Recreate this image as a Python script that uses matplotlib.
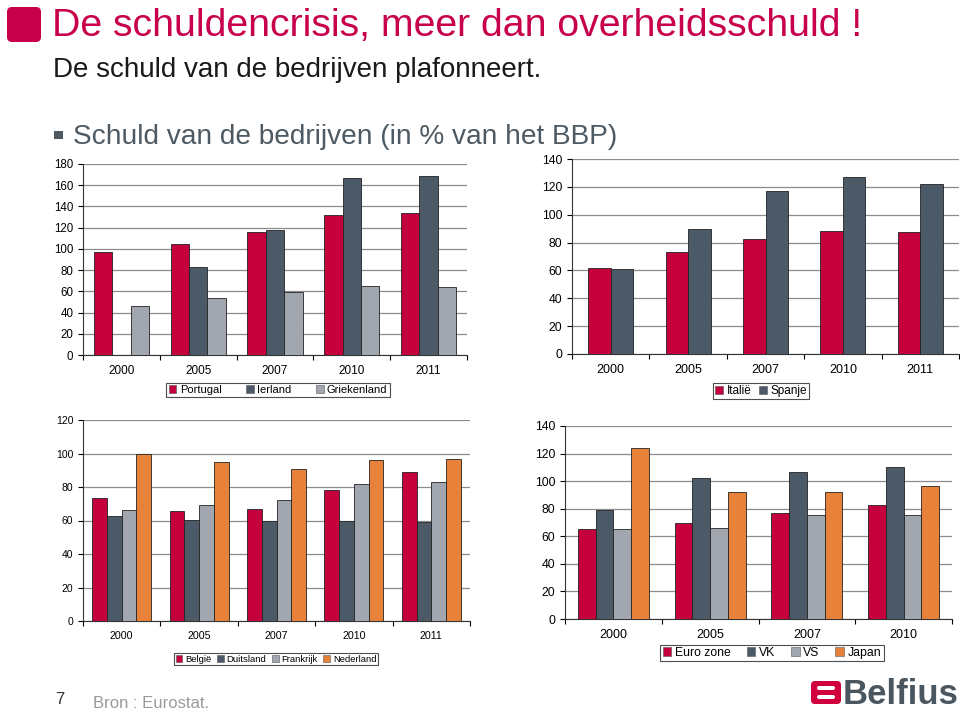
import numpy as np
import matplotlib
matplotlib.use("Agg")
import matplotlib.pyplot as plt
from matplotlib.patches import FancyBboxPatch, Rectangle, Patch

plt.rcParams['font.family'] = ['Liberation Sans', 'DejaVu Sans']

# data (% of GDP)
years5 = ['2000', '2005', '2007', '2010', '2011']
years4 = ['2000', '2005', '2007', '2010']

portugal = [97, 104.5, 116, 132, 134]
ierland = [np.nan, 83, 118, 167, 169]
griekenland = [46, 54, 59.5, 65, 64.5]

italie = [62, 73.5, 82.5, 88, 87.5]
spanje = [61, 89.5, 117, 127, 122]

belgie = [73.5, 65.5, 67, 78, 89]
duitsland = [62.5, 60.5, 60, 59.5, 59]
frankrijk = [66, 69, 72.5, 82, 83]
nederland = [100, 95, 91, 96, 96.5]

eurozone = [65, 70, 77, 83]
vk = [79, 102, 106.5, 110]
vs = [65, 66, 75.5, 75.5]
japan = [124, 92, 92, 96.5]

RED = '#C4003D'
SLATE = '#4B5A66'
GREY = '#A2A6AE'
ORANGE = '#E8823A'

W, H = 960, 712
fig = plt.figure(figsize=(9.6, 7.12), dpi=100)

# overlay in pixel coordinates for header / footer
bg = fig.add_axes([0, 0, 1, 1])
bg.set_xlim(0, W)
bg.set_ylim(H, 0)
bg.axis('off')

bg.add_patch(FancyBboxPatch((7, 7), 34, 35, boxstyle='round,pad=0,rounding_size=5',
                            fc='#C8004B', ec='none'))
bg.text(52, 36, 'De schuldencrisis, meer dan overheidsschuld !', color='#C8004B',
        fontsize=28.3, va='baseline', ha='left')
bg.text(53, 77, 'De schuld van de bedrijven plafonneert.', color='#1A1A1A',
        fontsize=20, va='baseline', ha='left')
bg.add_patch(Rectangle((54, 131), 9, 8, fc='#4D5A63', ec='none'))
bg.text(73, 144, 'Schuld van de bedrijven (in % van het BBP)', color='#4D5A63',
        fontsize=20.2, va='baseline', ha='left')
bg.text(55, 704, '7', color='#333333', fontsize=12, va='baseline')
bg.text(93, 708, 'Bron : Eurostat.', color='#9A9A9A', fontsize=12, va='baseline')

# Belfius logo
bg.add_patch(FancyBboxPatch((811, 681), 30, 23, boxstyle='round,pad=0,rounding_size=4',
                            fc='#D0003F', ec='none'))
for yy in (686, 695):
    bg.add_patch(FancyBboxPatch((817, yy), 18, 4, boxstyle='round,pad=0,rounding_size=2',
                                fc='white', ec='none'))
bg.text(843, 704, 'Belfius', color='#4A5761', fontsize=25, fontweight='bold',
        va='baseline', ha='left')


def px_axes(x0, x1, y0, y1):
    return fig.add_axes([x0 / W, 1 - y1 / H, (x1 - x0) / W, (y1 - y0) / H])


def bar_chart(ax, cats, series, names, colors, width, ymax, step,
              ytick_fs, xtick_fs, leg_xy, leg_fs, colsp):
    n = len(cats)
    x = np.arange(n)
    k = len(series)
    handles = []
    for i, (vals, col) in enumerate(zip(series, colors)):
        off = (i - (k - 1) / 2) * width
        ax.bar(x + off, vals, width, color=col, edgecolor='#222222', linewidth=0.6,
               zorder=3)
        handles.append(Patch(fc=col, ec='#555555', lw=0.4))
    ax.set_xlim(-0.5, n - 0.5)
    ax.set_ylim(0, ymax)
    ax.set_yticks(np.arange(0, ymax + 1, step))
    ax.set_xticks(x)
    ax.set_xticklabels(cats)
    ax.set_xticks(np.arange(n + 1) - 0.5, minor=True)
    ax.tick_params(axis='x', which='major', length=0, pad=7, labelsize=xtick_fs)
    ax.tick_params(axis='x', which='minor', length=3.5, width=0.8, direction='out')
    ax.tick_params(axis='y', length=3.5, width=0.8, direction='out', pad=3.5,
                   labelsize=ytick_fs)
    ax.grid(axis='y', color='#8C8C8C', linewidth=0.9, zorder=0)
    ax.set_axisbelow(True)
    for s in ('top', 'right'):
        ax.spines[s].set_visible(False)
    for s in ('left', 'bottom'):
        ax.spines[s].set_linewidth(0.8)
        ax.spines[s].set_color('#333333')
    leg = fig.legend(handles, names, loc='center',
                     bbox_to_anchor=(leg_xy[0] / W, 1 - leg_xy[1] / H),
                     ncol=k, fontsize=leg_fs, frameon=True, fancybox=False,
                     edgecolor='#222222', handlelength=0.7, handleheight=0.7,
                     handletextpad=0.3, columnspacing=colsp, borderpad=0.2)
    leg.get_frame().set_linewidth(0.8)


ax1 = px_axes(83, 467, 164, 355)
bar_chart(ax1, years5, [portugal, ierland, griekenland],
          ['Portugal', 'Ierland', 'Griekenland'], [RED, SLATE, GREY],
          0.24, 180, 20, 8.3, 8.5, (278, 390), 8, 2.2)

ax2 = px_axes(572, 959, 159, 354)
bar_chart(ax2, years5, [italie, spanje], ['Italië', 'Spanje'], [RED, SLATE],
          0.29, 140, 20, 8.8, 9, (761, 391), 8.5, 0.6)

ax3 = px_axes(83, 470, 420, 621)
bar_chart(ax3, years5, [belgie, duitsland, frankrijk, nederland],
          ['België', 'Duitsland', 'Frankrijk', 'Nederland'],
          [RED, SLATE, GREY, ORANGE], 0.19, 120, 20, 7.5, 7.7, (276, 659), 6.8, 0.6)

ax4 = px_axes(565, 952, 426, 619)
bar_chart(ax4, years4, [eurozone, vk, vs, japan],
          ['Euro zone', 'VK', 'VS', 'Japan'],
          [RED, SLATE, GREY, ORANGE], 0.183, 140, 20, 8.8, 9, (772, 653), 8.8, 1.3)

fig.savefig('out.png', dpi=100)
